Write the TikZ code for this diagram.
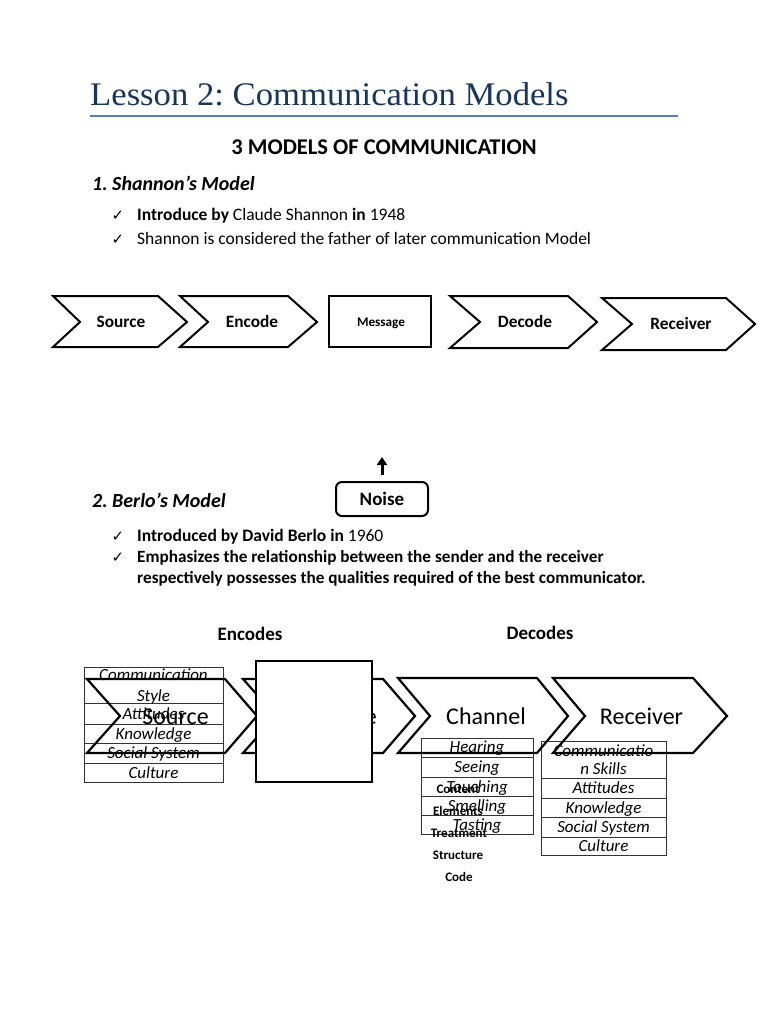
\documentclass[tikz,border=0pt]{standalone}
\usepackage{fontspec}
\setmainfont{Carlito}
\newfontfamily\titlefont{Liberation Serif}
\newfontfamily\symfont{DejaVu Sans}
\usetikzlibrary{arrows.meta}
\definecolor{titleblue}{HTML}{17365D}
\definecolor{rulecol}{HTML}{4F81BD}
\newcommand{\fsz}[1]{\fontsize{#1}{#1}\selectfont}
\frenchspacing
\begin{document}
\begin{tikzpicture}[x=1pt,y=-1pt,
  txt/.style={inner sep=0pt,anchor=base west},
  ctxt/.style={inner sep=0pt,anchor=base},
  chev/.style={draw=black,line width=2pt,line join=miter},
  bchev/.style={draw=black,line width=2.2pt,line join=miter},
  cell/.style={draw=black!80,line width=1pt},
  celltxt/.style={inner sep=0pt,anchor=base,font=\itshape\fsz{17}},
  slabel/.style={inner sep=0pt,anchor=base,font=\bfseries\fsz{17.3}},
  blabel/.style={inner sep=0pt,anchor=base,font=\fsz{24}},
  mlabel/.style={inner sep=0pt,anchor=base,font=\bfseries\fsz{13}},
  chk/.style={inner sep=0pt,anchor=base,font=\symfont\fsz{15}}
]
\useasboundingbox[fill=white] (0,0) rectangle (768,1024);

% Title
\node[txt,text=titleblue] (title) at (90,106) {\titlefont\fsz{33}\scalebox{1.05}[1]{Lesson 2: Communication Models}};
\draw[rulecol,line width=1.2pt] (90,116) -- (678,116);

\node[ctxt,font=\bfseries\fsz{22.5}] (heading) at (384,154.5) {3 MODELS OF COMMUNICATION};

% Shannon
\node[txt,font=\bfseries\itshape\fsz{20}] (shan) at (92,190.5) {1. Shannon’s Model};
\node[chk] (c1) at (118,221) {✓};
\node[txt,font=\fsz{17.5}] (s1) at (137,221) {\textbf{Introduce by} Claude Shannon \textbf{in} 1948};
\node[chk] (c2) at (118,244) {✓};
\node[txt,font=\fsz{17.5}] (s2) at (137,244) {Shannon is considered the father of later communication Model};

% Shannon chevrons
\draw[chev] (53,296) -- (158,296) -- (187,322) -- (158,347) -- (53,347) -- (80,322) -- cycle;
\draw[chev] (180,296) -- (288,296) -- (317,322) -- (288,347) -- (180,347) -- (208,322) -- cycle;
\draw[chev] (329,296) rectangle (431,347);
\draw[chev] (450,296) -- (568,296) -- (597,322) -- (568,348) -- (450,348) -- (480,322) -- cycle;
\draw[chev] (602,298) -- (726,298) -- (755,324) -- (726,350) -- (602,350) -- (632,324) -- cycle;
\node[slabel] (ssrc) at (121,327.6) {Source};
\node[slabel] (senc) at (252,327.6) {Encode};
\node[ctxt,font=\bfseries\fsz{13.2}] (smsg) at (381,326) {Message};
\node[slabel] (sdec) at (525,327.6) {Decode};
\node[slabel] (srec) at (681,329) {Receiver};

% Noise
\node[draw=black,line width=2pt,rounded corners=6pt,minimum width=92pt,minimum height=34pt,inner sep=0pt,font=\bfseries\fsz{19}] (noise) at (382,499) {Noise};
\coordinate (ntip) at (382,457);
\draw[line width=3pt,-{Triangle[width=10pt,length=8pt]}] (382,475) -- (ntip);

% Berlo
\node[txt,font=\bfseries\itshape\fsz{20}] (berlo) at (92,507.5) {2. Berlo’s Model};
\node[chk] (c3) at (118,541.5) {✓};
\node[txt,font=\fsz{17.5}] (b1) at (137,541.5) {\textbf{Introduced by David Berlo in} 1960};
\node[chk] (c4) at (118,562.5) {✓};
\node[txt,font=\bfseries\fsz{17.2}] (b2) at (137,562.5) {Emphasizes the relationship between the sender and the receiver};
\node[txt,font=\bfseries\fsz{17.2}] (b3) at (137,583.5) {respectively possesses the qualities required of the best communicator.};

\node[ctxt,font=\bfseries\fsz{19}] (enc) at (250,640.5) {Encodes};
\node[ctxt,font=\bfseries\fsz{19}] (dec) at (540,639.5) {Decodes};

% Source table
\draw[cell] (84,667) rectangle (223,782);
\foreach \yy in {703,724,743,763} \draw[cell] (84,\yy) -- (223,\yy);
\node[celltxt] (t1) at (153.5,680.5) {Communication};
\node[celltxt] (t2) at (153.5,701.5) {Style};
\node[celltxt] (t3) at (153.5,719.5) {Attitudes};
\node[celltxt] (t4) at (153.5,739.5) {Knowledge};
\node[celltxt] (t5) at (153.5,758.5) {Social System};
\node[celltxt] (t6) at (153.5,778) {Culture};

% Channel table
\draw[cell] (421,738) rectangle (533,834);
\foreach \yy in {757,777,796,815} \draw[cell] (421,\yy) -- (533,\yy);
\node[celltxt] (h1) at (477,752.5) {Hearing};
\node[celltxt] (h2) at (477,772.5) {Seeing};
\node[celltxt] (h3) at (477,792.5) {Touching};
\node[celltxt] (h4) at (477,811.5) {Smelling};
\node[celltxt] (h5) at (477,830.5) {Tasting};

% Receiver table
\draw[cell] (541,741) rectangle (666,855);
\foreach \yy in {778,798,817,837} \draw[cell] (541,\yy) -- (666,\yy);
\node[celltxt] (r1) at (603.5,756.5) {Communicatio};
\node[celltxt] (r2) at (603.5,774.5) {n Skills};
\node[celltxt] (r3) at (603.5,793.5) {Attitudes};
\node[celltxt] (r4) at (603.5,813.5) {Knowledge};
\node[celltxt] (r5) at (603.5,832.5) {Social System};
\node[celltxt] (r6) at (603.5,851.5) {Culture};

% Berlo chevrons
\draw[bchev] (87,679) -- (225,679) -- (257,716) -- (225,753) -- (87,753) -- (120,716) -- cycle;
\draw[bchev] (243,679) -- (383,679) -- (415,716) -- (383,753) -- (243,753) -- (276,716) -- cycle;
\draw[bchev] (398,678) -- (537,678) -- (568,716) -- (537,753) -- (398,753) -- (430,716) -- cycle;
\draw[bchev] (553,678) -- (693,678) -- (727,716) -- (693,753) -- (553,753) -- (585,716) -- cycle;
\node[blabel] (bsrc) at (175.5,724.5) {Source};
\node[blabel] (bmsg) at (334,724.5) {Message};
\node[blabel] (bchn) at (486,724.5) {Channel};
\node[blabel] (brec) at (641.5,724.5) {Receiver};

% covering box
\draw[black,line width=2.7pt,fill=white] (256,661) rectangle (372,782);

% Message elements
\node[mlabel] (m1) at (458,793.5) {Content};
\node[mlabel] (m2) at (458,815.5) {Elements};
\node[mlabel] (m3) at (459,837.5) {Treatment};
\node[mlabel] (m4) at (458,859.5) {Structure};
\node[mlabel] (m5) at (459,881.5) {Code};
\end{tikzpicture}
\end{document}
